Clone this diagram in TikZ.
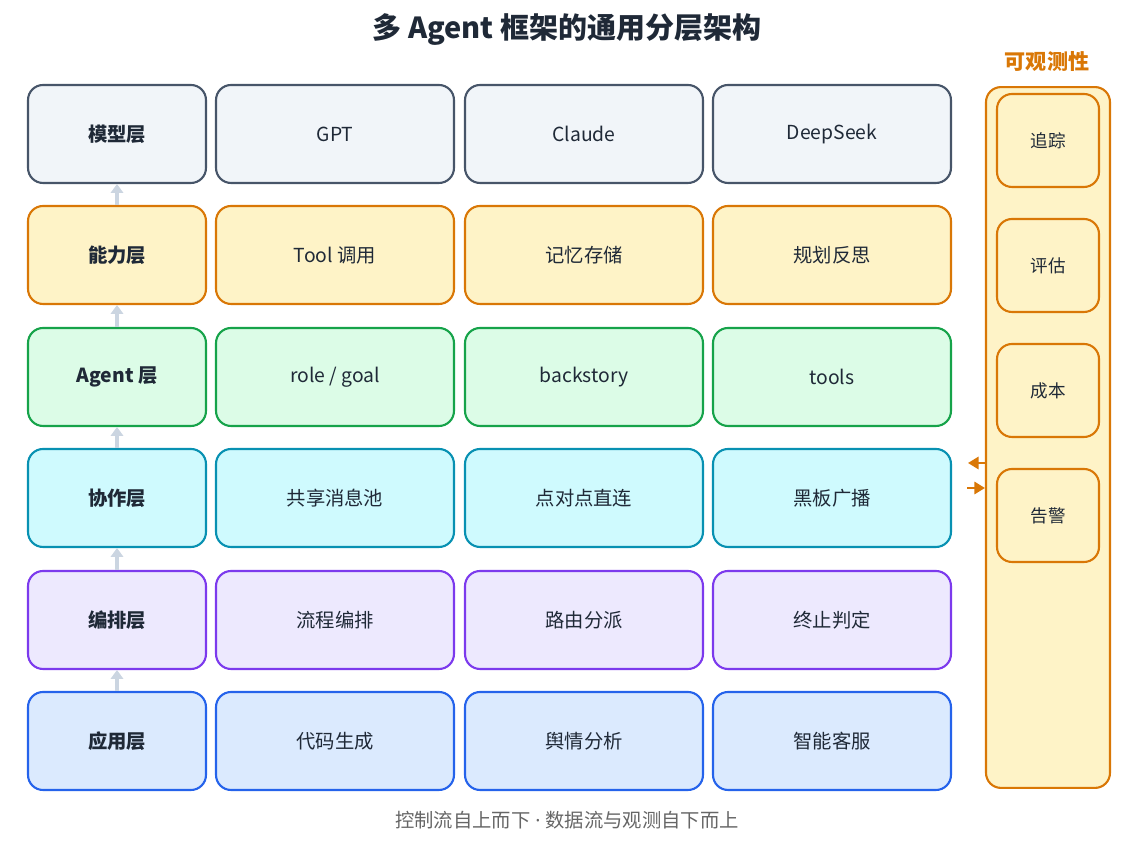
\documentclass[tikz,border=0pt]{standalone}
\usepackage{fontspec}
\setmainfont{Noto Sans CJK SC}
\newfontfamily\latinfont{Noto Sans}
\usetikzlibrary{arrows.meta}
\definecolor{ink}{HTML}{1F2937}
\definecolor{obsline}{HTML}{D97706}
\definecolor{obsfill}{HTML}{FEF3C7}
\definecolor{upgray}{HTML}{CBD5E1}
\tikzset{
  cell/.style={draw, line width=1.2pt, rounded corners=0.3cm, minimum height=1.96cm, text=ink, font=\fontsize{11}{13}\selectfont},
  head/.style={cell, minimum width=3.56cm, font=\fontsize{11}{13}\selectfont\bfseries},
  item/.style={cell, minimum width=4.76cm},
  obs/.style={draw=obsline, fill=obsfill, line width=1.2pt, rounded corners=0.3cm, minimum width=2.04cm, minimum height=1.86cm, text=ink, font=\fontsize{10}{12}\selectfont},
  up/.style={-{Triangle[width=7pt,length=5pt]}, line width=1.8pt, draw=upgray},
  tap/.style={-{Triangle[width=7pt,length=6pt]}, line width=1.2pt, draw=obsline}
}
\begin{document}
\begin{tikzpicture}[x=0.02cm,y=-0.02cm]
\useasboundingbox (0,0) rectangle (1134,847);
\node[font=\fontsize{16.5}{19}\selectfont\bfseries, text=ink] (title) at (567,30) {多 Agent 框架的通用分层架构};
% layers, top to bottom
\foreach \i/\y/\bd/\bg/\h/\a/\b/\c in {
  model/134/475569/F1F5F9/模型层/GPT/Claude/DeepSeek,
  skill/255/D97706/FEF3C7/能力层/Tool 调用/记忆存储/规划反思,
  agent/377/16A34A/DCFCE7/Agent 层/{role / goal}/backstory/tools,
  coop/498/0891B2/CFFAFE/协作层/共享消息池/点对点直连/黑板广播,
  flow/620/7C3AED/EDE9FE/编排层/流程编排/路由分派/终止判定,
  app/741/2563EB/DBEAFE/应用层/代码生成/舆情分析/智能客服}{
  \definecolor{bd}{HTML}{\bd}\definecolor{bg}{HTML}{\bg}
  \node[head, draw=bd, fill=bg] (\i) at (117,\y) {\h};
  \node[item, draw=bd, fill=bg] (\i-a) at (335,\y) {\a};
  \node[item, draw=bd, fill=bg] (\i-b) at (584,\y) {\b};
  \node[item, draw=bd, fill=bg] (\i-c) at (832,\y) {\c};
}
\draw[up] (app) -- (flow);
\draw[up] (flow) -- (coop);
\draw[up] (coop) -- (agent);
\draw[up] (agent) -- (skill);
\draw[up] (skill) -- (model);
% observability
\node[draw=obsline, fill=obsfill, line width=1.2pt, rounded corners=0.3cm, minimum width=2.48cm, minimum height=14.02cm] (panel) at (1048,437.5) {};
\node[font=\fontsize{12}{14}\selectfont\bfseries, text=obsline] (obstitle) at (1047,62) {可观测性};
\node[obs] (trace) at (1048,140.5) {追踪};
\node[obs] (eval) at (1048,265.5) {评估};
\node[obs] (cost) at (1048,390.5) {成本};
\node[obs] (alarm) at (1048,515.5) {告警};
\coordinate (out) at (968,463);
\coordinate (in) at (967,488);
\draw[tap] (panel.west |- out) -- (out);
\draw[tap] (in) -- (panel.west |- in);
\node[font=\fontsize{11}{13}\selectfont, text=gray!80!black] (note) at (567,820) {控制流自上而下{\latinfont\ ·\ }数据流与观测自下而上};
\end{tikzpicture}
\end{document}
